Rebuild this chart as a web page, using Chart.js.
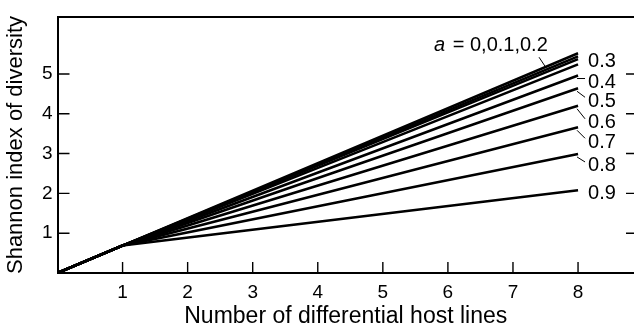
<!DOCTYPE html>
<html>
<head>
<meta charset="utf-8">
<script src="https://cdn.jsdelivr.net/npm/chart.js@4"></script>
<style>
  html, body { margin: 0; padding: 0; background: #fff; overflow: hidden; }
  #wrap { width: 634px; height: 333px; }
</style>
</head>
<body>
<div id="wrap"><canvas id="chart_diversity" width="634" height="333"></canvas></div>
<script>
// số dòng ký chủ (trục x) và chỉ số Shannon
const xValues = [0, 1, 8];
const aValues = ["0", "0.1", "0.2", "0.3", "0.4", "0.5", "0.6", "0.7", "0.8", "0.9"];
const valueAtZero = 0;
const valueAtOne = 0.69;
const valueAtEight = [5.52, 5.44, 5.37, 5.24, 4.96, 4.64, 4.20, 3.66, 2.99, 2.08];
const xTicks = [1, 2, 3, 4, 5, 6, 7, 8];
const yTicks = [1, 2, 3, 4, 5];

const FONT = "'Liberation Sans', Arial, Helvetica, sans-serif";

const datasets = aValues.map((a, i) => ({
    label: "a = " + a,
    data: xValues.map((x, j) => ({ x: x, y: [valueAtZero, valueAtOne, valueAtEight[i]][j] })),
    borderColor: "#000",
    borderWidth: 2.5,
    pointRadius: 0,
    fill: false,
    tension: 0
}));

// vạch chia hướng vào trong + viền trên + nhãn các đường
const decorations = {
    id: "decorations",
    afterDraw(chart) {
        const ctx = chart.ctx;
        const xs = chart.scales.x, ys = chart.scales.y;
        const area = chart.chartArea;
        ctx.save();
        ctx.strokeStyle = "#000";

        // viền trên
        ctx.lineWidth = 2;
        ctx.beginPath();
        ctx.moveTo(area.left, area.top);
        ctx.lineTo(area.right, area.top);
        ctx.stroke();

        ctx.lineWidth = 1.4;
        xTicks.forEach(v => {
            const px = xs.getPixelForValue(v);
            ctx.beginPath();
            ctx.moveTo(px, area.bottom);
            ctx.lineTo(px, area.bottom - 11);
            ctx.stroke();
        });
        yTicks.forEach(v => {
            const py = ys.getPixelForValue(v);
            ctx.beginPath();
            ctx.moveTo(area.left, py);
            ctx.lineTo(area.left + 12, py);
            ctx.moveTo(area.right, py);
            ctx.lineTo(area.right - 8, py);
            ctx.stroke();
        });

        // nhãn a
        const xEnd = xs.getPixelForValue(8);
        const labelX = xEnd + 10;
        const offsets = [null, null, null, -3, 7, 13, 17, 15, 12, 3];
        ctx.fillStyle = "#000";
        ctx.textBaseline = "middle";
        ctx.font = "20px " + FONT;
        for (let i = 3; i < aValues.length; i++) {
            const yEnd = ys.getPixelForValue(valueAtEight[i]);
            const ly = yEnd + offsets[i];
            ctx.fillText(aValues[i], labelX, ly);
            if (i >= 4 && i <= 8) {
                ctx.lineWidth = 1;
                ctx.beginPath();
                ctx.moveTo(xEnd - 1, yEnd + 3);
                ctx.lineTo(labelX - 3, ly - 4);
                ctx.stroke();
            }
        }

        // "a = 0,0.1,0.2"
        const yTop = ys.getPixelForValue(valueAtEight[0]);
        const ty = yTop - 8;
        ctx.font = "italic 20px " + FONT;
        let tx = xEnd - 144;
        ctx.fillText("a", tx, ty);
        tx += ctx.measureText("a").width;
        ctx.font = "20px " + FONT;
        ctx.fillText(" = " + aValues.slice(0, 3).join(","), tx + 2, ty);
        ctx.lineWidth = 1;
        ctx.beginPath();
        ctx.moveTo(xEnd - 39, ty + 12);
        ctx.lineTo(xEnd - 33, ty + 21);
        ctx.stroke();

        ctx.restore();
    }
};

new Chart(document.getElementById("chart_diversity").getContext("2d"), {
    type: "line",
    data: { datasets: datasets },
    options: {
        responsive: false,
        animation: false,
        layout: { padding: { top: 17, right: 0, bottom: 0, left: 0 } },
        plugins: {
            legend: { display: false },
            tooltip: { enabled: false }
        },
        scales: {
            x: {
                type: "linear",
                min: 0,
                max: 8.86,
                afterBuildTicks: s => { s.ticks = xTicks.map(v => ({ value: v })); },
                afterFit: s => { s.height = 60; },
                grid: { display: true, drawOnChartArea: false, drawTicks: false },
                border: { display: true, color: "#000", width: 2 },
                ticks: { color: "#000", padding: 8, font: { family: FONT, size: 19 } },
                title: {
                    display: true,
                    text: "Number of differential host lines",
                    color: "#000",
                    padding: { top: 0, bottom: 3 },
                    font: { family: FONT, size: 23 }
                }
            },
            y: {
                type: "linear",
                min: 0,
                max: 6.43,
                afterBuildTicks: s => { s.ticks = yTicks.map(v => ({ value: v })); },
                afterFit: s => { s.width = 57.5; },
                grid: { display: true, drawOnChartArea: false, drawTicks: false },
                border: { display: true, color: "#000", width: 2 },
                ticks: { color: "#000", padding: 5, font: { family: FONT, size: 19 } },
                title: {
                    display: true,
                    text: "Shannon index of diversity",
                    color: "#000",
                    padding: { top: 3, bottom: 0 },
                    font: { family: FONT, size: 22 }
                }
            }
        }
    },
    plugins: [decorations]
});
</script>
</body>
</html>
